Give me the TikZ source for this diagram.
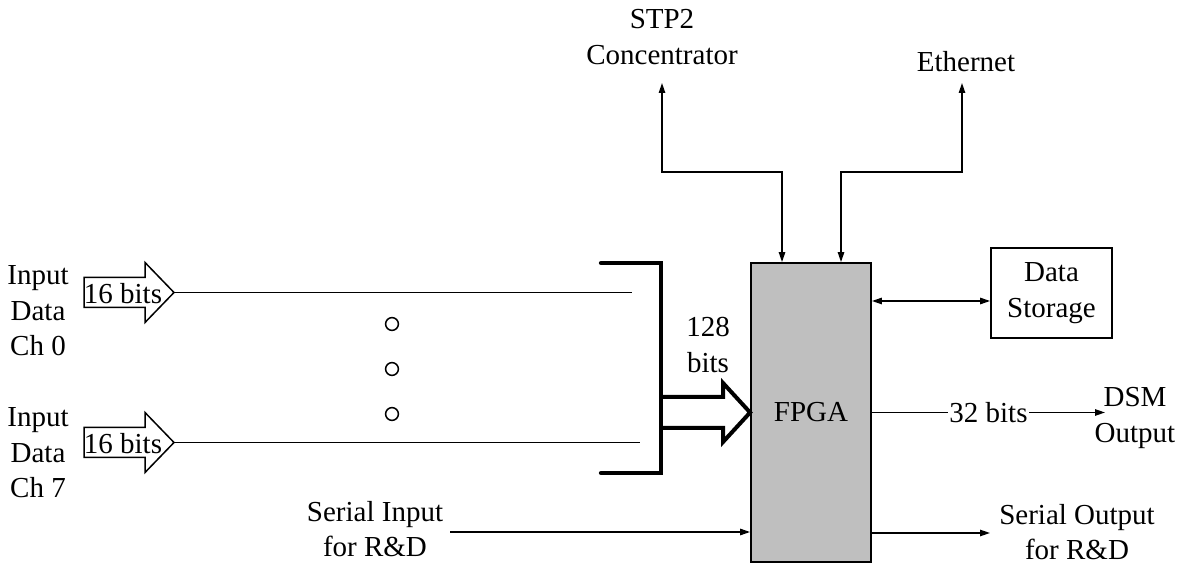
\documentclass[tikz,border=0pt]{standalone}
\usepackage{fontspec}
\setmainfont{Liberation Serif}
\usetikzlibrary{arrows.meta}

\begin{document}
\begin{tikzpicture}[x=0.5pt, y=-0.5pt, line width=0.75pt,
  >={Triangle[length=5pt, width=3.2pt]},
  every node/.style={inner sep=0pt, align=center, font=\fontsize{14.5}{17.75}\selectfont},
  box/.style={draw, line width=0.9pt},
  bus/.style={line width=2.2pt, line cap=round}]
  \useasboundingbox (0,0) rectangle (1203,565);
  % blocks
  \node[box, fill=gray!50, minimum width=60pt, minimum height=149.5pt] (fpga) at (811,412.5) {FPGA};
  \node[box, minimum width=60.5pt, minimum height=45pt] (store) at (1051.5,293) {Data\\Storage};
  % labels
  \node (stp) at (662,37) {STP2\\Concentrator};
  \node (eth) at (966,62) {Ethernet};
  \node (dsm) at (1135,418) {DSM\\Output};
  \node (sout) at (1077,532) {Serial Output\\for R\&D};
  \node (sin) at (375,529) {Serial Input\\for R\&D};
  \node (in0) at (38,311) {Input\\Data\\Ch 0};
  \node (in7) at (38,453) {Input\\Data\\Ch 7};
  \node (wide) at (708,345) {128\\bits};
  % free ends
  \coordinate (stpend) at (662,83);
  \coordinate (ethend) at (962,83);
  \coordinate (dsend) at ([yshift=-4pt]store.west);
  \coordinate (dsmend) at (1105,412.5);
  \coordinate (soutend) at (990,533);
  \coordinate (sinstart) at (450,532);
  % top links
  \draw[<->] ([xshift=-14.5pt]fpga.north) -- ++(0,-90) -| (stpend);
  \draw[<->] ([xshift=15pt]fpga.north) -- ++(0,-90) -| (ethend);
  % right side links
  \draw[<->] (fpga.east |- dsend) -- (dsend);
  \draw[->] (fpga.east) -- node[fill=white, inner xsep=0.5pt, inner ysep=1pt] {32 bits} (dsmend);
  \draw[->] (fpga.east |- soutend) -- (soutend);
  % serial input
  \draw[->] (sinstart) -- (fpga.west |- sinstart);
  % input channels
  \foreach \y/\xe/\n in {292.5/632/0, 442.5/640/7} {
    \draw (84,\y-15) -- (145,\y-15) -- (145,\y-30) -- (174,\y) -- (145,\y+30)
      -- (145,\y+15) -- (84,\y+15) -- cycle;
    \node (bits\n) at (123,\y+1) {16 bits};
    \coordinate (tip\n) at (174,\y);
    \coordinate (end\n) at (\xe,\y);
    \draw (tip\n) -- (end\n);
  }
  % dots
  \foreach \y in {324,369,414}
    \draw (392,\y) circle (3.2pt);
  % bracket
  \draw[bus] (601,263) -- (661,263) -- (661,473) -- (601,473);
  % wide arrow
  \draw[line width=2pt] (661,397) -- (723,397) -- (723,383) -- (fpga.west)
    -- (723,442) -- (723,428) -- (661,428);
\end{tikzpicture}
\end{document}
